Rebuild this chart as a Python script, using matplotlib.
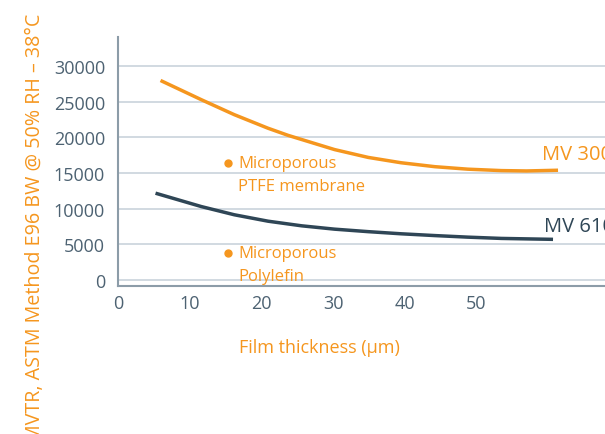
import matplotlib

matplotlib.use("Agg")
import matplotlib.pyplot as plt

# curves (film thickness in um, MVTR)
mv300_x = [5.9, 11.6, 16.2, 20.9, 23.7, 30.2, 34.9, 39.5, 44.2, 48.8, 53.5, 57.0, 61.4]
mv300_y = [28000, 25300, 23200, 21300, 20300, 18300, 17200, 16450, 15900, 15550, 15350, 15300, 15400]
mv610_x = [5.2, 11.6, 16.2, 20.9, 25.6, 30.2, 34.9, 39.5, 44.2, 48.8, 53.5, 60.7]
mv610_y = [12180, 10300, 9150, 8250, 7600, 7130, 6780, 6480, 6230, 6010, 5830, 5700]
series_labels = ["MV 300", "MV 610"]
y_ticks = [0, 5000, 10000, 15000, 20000, 25000, 30000]
x_ticks = [0, 10, 20, 30, 40, 50]
notes = [(["Microporous", "PTFE membrane"], 15.3, 16390),
         (["Microporous", "Polylefin"], 15.3, 3750)]

orange = "#F5961E"
dark = "#2F4656"
tick_col = "#4D6272"
grid_col = "#C9D3DB"
spine_col = "#8C9CA8"

plt.rcParams["font.family"] = ["Open Sans", "DejaVu Sans"]

fig = plt.figure(figsize=(6.05, 4.35), dpi=100)
ax = fig.add_axes([0.1955, 0.3402, 0.805, 0.5724])

ax.plot(mv300_x, mv300_y, color=orange, linewidth=2.5, solid_capstyle="butt")
ax.plot(mv610_x, mv610_y, color=dark, linewidth=2.5, solid_capstyle="butt")

ax.set_xlim(0, 68)
ax.set_ylim(-850, 34100)
ax.set_yticks(y_ticks)
ax.set_xticks(x_ticks)
ax.yaxis.grid(True, color=grid_col, linewidth=1.2)
ax.set_axisbelow(True)
ax.tick_params(length=0, labelsize=13, colors=tick_col)
ax.tick_params(axis="y", pad=9.5)
ax.tick_params(axis="x", pad=6)
for side in ["top", "right"]:
    ax.spines[side].set_visible(False)
for side in ["left", "bottom"]:
    ax.spines[side].set_color(spine_col)
    ax.spines[side].set_linewidth(1.5)

ax.text(59.2, 17700, series_labels[0], color=orange, fontsize=14.5,
        ha="left", va="center", clip_on=False)
ax.text(59.5, 7630, series_labels[1], color=dark, fontsize=14.5,
        ha="left", va="center", clip_on=False)

line_step = 3150  # vertical gap between the two note lines, in data units
for lines, nx, ny in notes:
    ax.plot([nx], [ny], "o", color=orange, markersize=5)
    for i, line in enumerate(lines):
        ax.text(nx + 1.4, ny - i * line_step, line, color=orange, fontsize=12,
                ha="left", va="center")

fig.text(0.528, 0.2, "Film thickness (µm)", color=orange, fontsize=13,
         ha="center", va="center")
fig.text(0.058, 0.476, "MVTR, ASTM Method E96 BW @ 50% RH – 38°C", color=orange,
         fontsize=14.2, rotation=90, ha="center", va="center")

fig.savefig("out.png", dpi=100)
